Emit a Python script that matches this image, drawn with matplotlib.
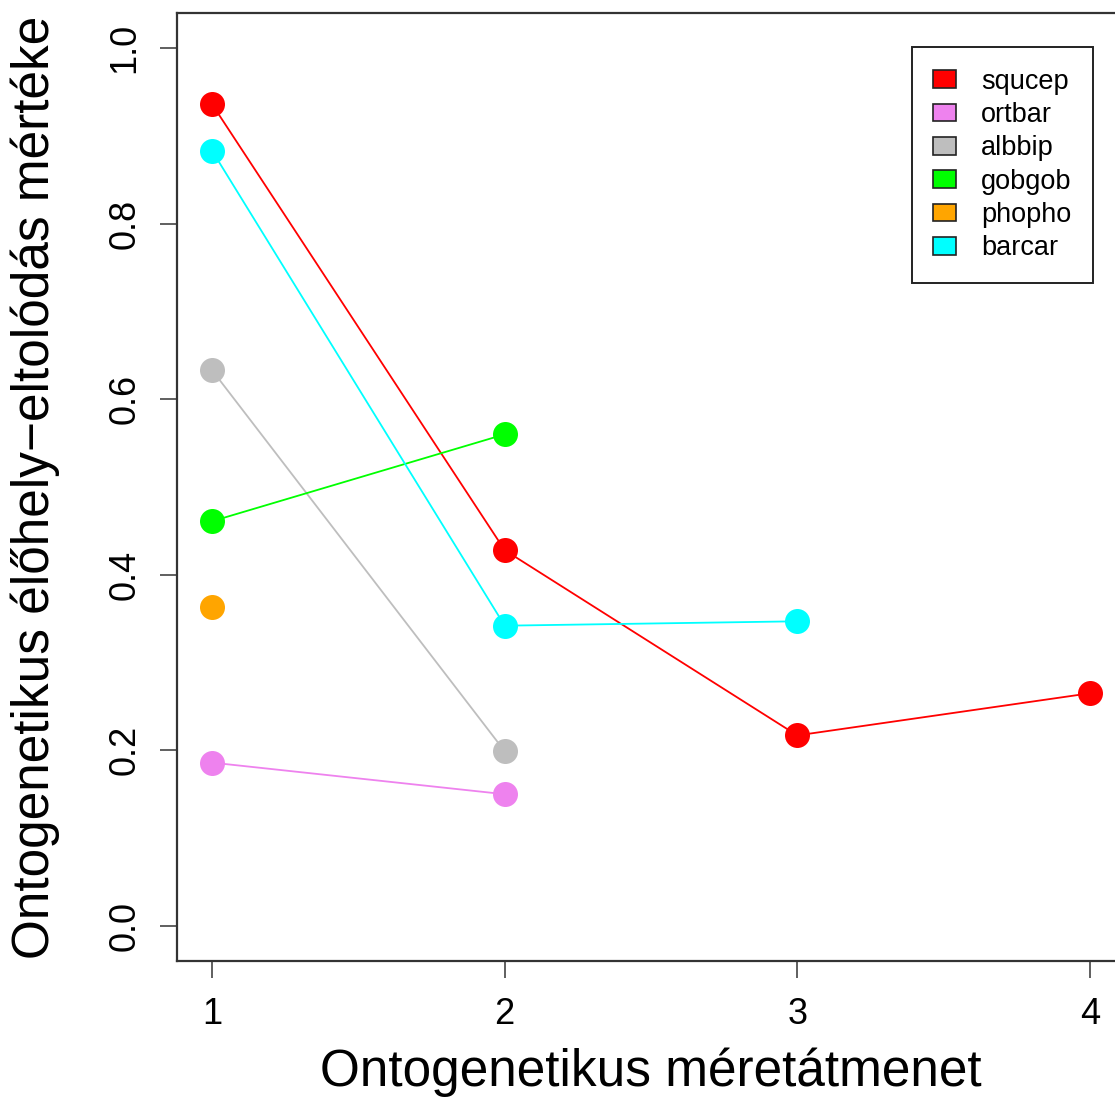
import matplotlib
matplotlib.use("Agg")
import matplotlib.pyplot as plt
from matplotlib.patches import Patch

plt.rcParams["font.family"] = ["Liberation Sans", "DejaVu Sans"]

# Habitat-shift magnitude per ontogenetic size transition, one list per species
species = ["squcep", "ortbar", "albbip", "gobgob", "phopho", "barcar"]
colors = ["#FF0000", "#EE82EE", "#BEBEBE", "#00FF00", "#FFA500", "#00FFFF"]
squcep = [0.936, 0.428, 0.217, 0.265]
ortbar = [0.186, 0.150]
albbip = [0.633, 0.199]
gobgob = [0.461, 0.560]
phopho = [0.363]
barcar = [0.883, 0.342, 0.347]
series = [squcep, ortbar, albbip, gobgob, phopho, barcar]

xticks = [1, 2, 3, 4]
yticks = [0.0, 0.2, 0.4, 0.6, 0.8, 1.0]

W, H = 1115, 1099
fig = plt.figure(figsize=(W / 100, H / 100), dpi=100)
# plot region in pixels: left 177, right 1125 (runs past the edge), top 13, bottom 961
ax = fig.add_axes([177 / W, (H - 961) / H, (1125 - 177) / W, (961 - 13) / H])

for vals, col in zip(series, colors):
    xs = list(range(1, len(vals) + 1))
    ax.plot(xs, vals, color=col, lw=1.3, zorder=2)
    ax.plot(xs, vals, "o", color=col, ms=18, mec="none", zorder=3)

ax.set_xlim(0.88, 4.12)
ax.set_ylim(-0.04, 1.04)
ax.set_xticks(xticks)
ax.set_xticklabels([str(t) for t in xticks], fontsize=26)
ax.set_yticks(yticks)
ax.set_yticklabels([f"{t:.1f}" for t in yticks], fontsize=26,
                   rotation=90, va="center")
ax.tick_params(axis="both", length=12, width=1.2, color="#444444")
ax.tick_params(axis="x", pad=14)
ax.tick_params(axis="y", pad=13)
for sp in ax.spines.values():
    sp.set_linewidth(1.6)
    sp.set_color("#333333")

ax.set_xlabel("Ontogenetikus méretátmenet", fontsize=37, va="center")
ax.xaxis.set_label_coords(0.5, -(1072 - 961) / 948)
ax.set_ylabel("Ontogenetikus élőhely\u2212eltolódás mértéke", fontsize=37,
              va="center")
ax.yaxis.set_label_coords((35 - 177) / 948, 0.5)

handles = [Patch(facecolor=c, edgecolor="#222222", lw=1.2) for c in colors]
leg = ax.legend(handles, species, loc="upper right",
                bbox_to_anchor=((1093 - 177) / 948, (961 - 47) / 948),
                borderaxespad=0, fontsize=19.5, frameon=True, fancybox=False,
                framealpha=1, edgecolor="#222222", handlelength=0.82,
                handleheight=0.63, handletextpad=0.93, labelspacing=0.27,
                borderpad=0.8)
leg.get_frame().set_linewidth(1.4)

fig.savefig("out.png", dpi=100)
